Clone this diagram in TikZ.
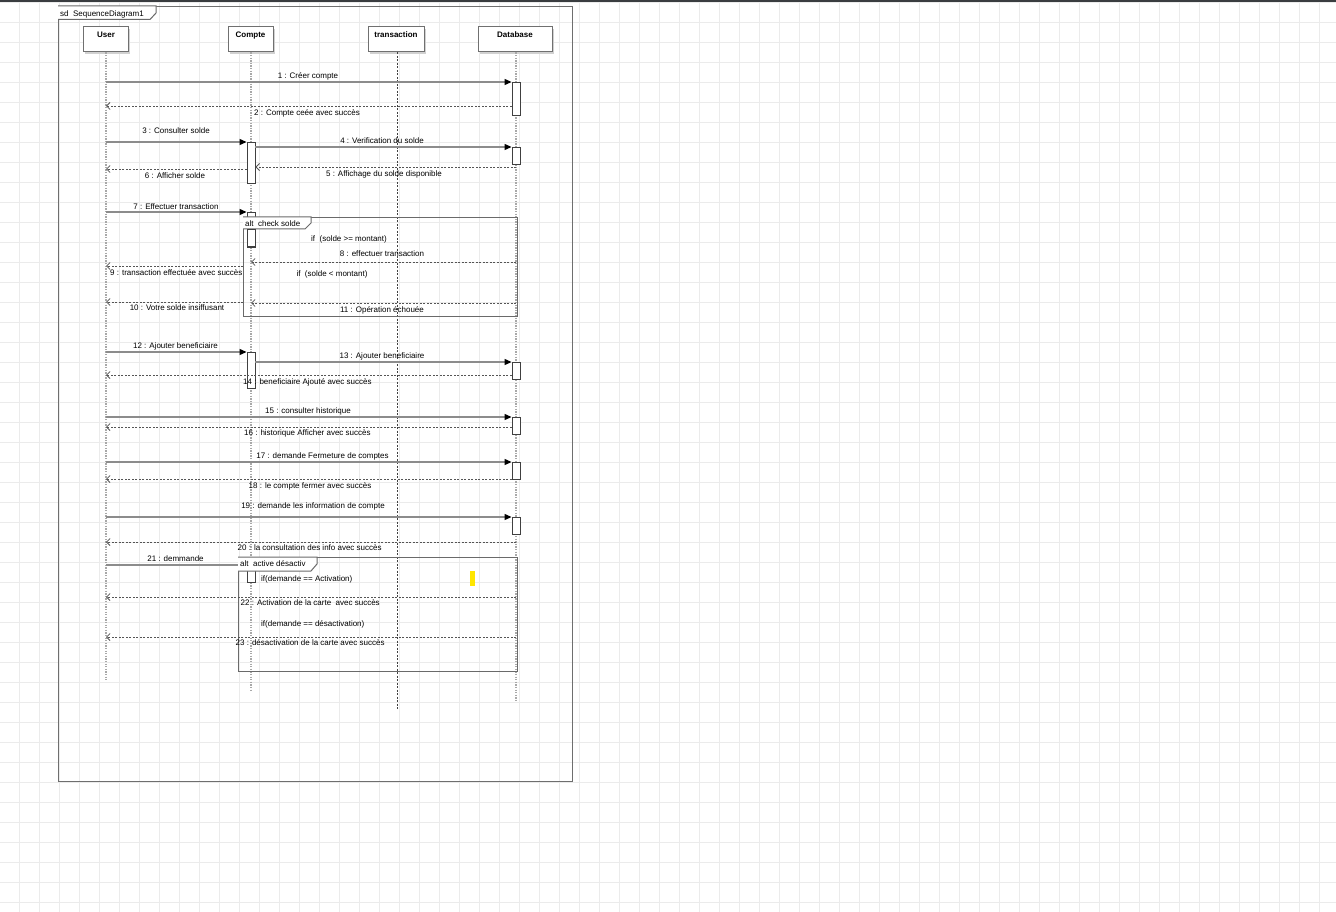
\documentclass[tikz,border=0pt]{standalone}
\usepackage{fontspec}
\setmainfont{Liberation Sans}
\usetikzlibrary{arrows.meta,shadows}
\definecolor{gridc}{HTML}{EBEBEB}
\definecolor{topc}{HTML}{3A3D40}
\definecolor{framec}{HTML}{6E6E6E}
\definecolor{headc}{HTML}{707070}
\definecolor{msgc}{HTML}{8C8C8C}
\definecolor{retc}{HTML}{555555}
\definecolor{lifec}{HTML}{A8A8A8}
\definecolor{lifet}{HTML}{404040}
\definecolor{actc}{HTML}{404040}
\definecolor{altc}{HTML}{6A6A6A}
\definecolor{marker}{HTML}{FFE600}
\tikzset{
  lbl/.style={font=\fontsize{8}{9.6}\selectfont, inner sep=0pt, anchor=mid, yshift=-0.8pt},
  lblw/.style={font=\fontsize{8}{9.6}\selectfont, inner sep=0pt, anchor=mid west, yshift=-0.8pt},
  head/.style={draw=headc, line width=1pt, fill=white, inner sep=3.5pt,
    minimum height=25pt, text height=7.5pt, text depth=10.5pt,
    font=\fontsize{8}{9.6}\selectfont\bfseries,
    drop shadow={shadow xshift=1.6pt, shadow yshift=-1.6pt, fill=black!18, opacity=1}},
  life/.style={draw=lifec, line width=1.3pt, dash pattern=on 1.3pt off 1.3pt},
  lifedark/.style={draw=lifet, line width=0.8pt, dash pattern=on 2pt off 1.5pt},
  act/.style={draw=actc, line width=0.9pt, fill=white, minimum width=8pt, inner sep=0pt, anchor=north},
  msg/.style={draw=msgc, line width=1.2pt, -{Triangle[length=7pt,width=6pt,color=black]}},
  ret/.style={draw=retc, line width=0.8pt, dash pattern=on 2pt off 1.5pt, -{Straight Barb[length=3.5pt,width=7pt]}},
  fragbox/.style={draw=altc, line width=1.2pt, anchor=north west, inner sep=0pt},
  tabshape/.style={draw=altc, line width=1pt, fill=white}
}
\begin{document}
\begin{tikzpicture}[x=1pt,y=-1pt]
\useasboundingbox (0,0) rectangle (1336,912);
% background grid
\fill[white] (0,0) rectangle (1336,912);
\foreach \i in {0,...,66} \draw[gridc, line width=1pt] ({19.5+20*\i},0) -- ({19.5+20*\i},912);
\foreach \j in {0,...,45} \draw[gridc, line width=1pt] (0,{2.7+20*\j}) -- (1336,{2.7+20*\j});
\fill[topc] (0,0) rectangle (1336,2.3);

% outer frame
\node[draw=framec, line width=1.3pt, anchor=north west, inner sep=0pt, minimum width=514pt, minimum height=775pt] (sd) at (58,6) {};
\draw[tabshape] (58,6) -- (156,6) -- (156,13) -- (150,19.5) -- (58,19.5);
\node[lblw] (sdl) at (60,13) {sd\ \ SequenceDiagram1};

% heads
\node[head, minimum width=45pt] (u) at (106,39.5) {User};
\node[head, minimum width=45pt] (c) at (250.5,39.5) {Compte};
\node[head, minimum width=56pt] (t) at (396,39.5) {transaction};
\node[head, minimum width=74pt] (d) at (515,39.5) {Database};

% lifelines
\draw[life] (u.south) -- (u.south |- 0,680);
\draw[life] (c.south) ++(0.5,0) -- (251,692);
\draw[lifedark] (t.south) ++(1,0) -- (397,710);
\draw[life] (d.south) ++(1,0) -- (516,702);

% activation bars
\node[act, minimum height=33pt] (a1) at (516,82) {};
\node[act, minimum height=41pt] (a2) at (251,142) {};
\node[act, minimum height=17pt] (a3) at (516,147) {};
\node[act, minimum height=35pt] (a4) at (251,212) {};
\node[act, minimum height=36pt] (a5) at (251,352) {};
\node[act, minimum height=17pt] (a6) at (516,362) {};
\node[act, minimum height=17pt] (a7) at (516,417) {};
\node[act, minimum height=17pt] (a8) at (516,462) {};
\node[act, minimum height=17pt] (a9) at (516,517) {};
\node[act, minimum height=17pt] (a10) at (251,565) {};

% messages
\draw[msg] (u.south |- a1.north) -- (a1.north west);
\draw[ret] (a1.west |- 0,106) -- (u.south |- 0,106);
\draw[msg] (u.south |- a2.north) -- (a2.north west);
\draw[msg] (a2.east |- a3.north) -- (a3.north west);
\draw[ret] (516,167) -- (a2.east |- 0,167);
\draw[ret] (a2.west |- 0,169) -- (u.south |- 0,169);
\draw[msg] (u.south |- a4.north) -- (a4.north west);

% alt check solde
\node[fragbox, minimum width=274pt, minimum height=99pt] (alt1) at (243,217) {};
\draw[ret] (516,262) -- (251,262);
\draw[ret] (alt1.west |- 0,266) -- (u.south |- 0,266);
\draw[ret] (alt1.west |- 0,302) -- (u.south |- 0,302);
\draw[ret] (516,303) -- (251,303);
\draw[tabshape] (243,217) -- (311,217) -- (311,223) -- (305,229) -- (243,229);
\node[lblw] (alt1l) at (245,223) {alt\ \ check solde};
\node[act, minimum height=17pt] (a4b) at (251,229) {};

\draw[msg] (u.south |- a5.north) -- (a5.north west);
\draw[msg] (a5.east |- a6.north) -- (a6.north west);
\draw[ret] (a6.west |- 0,375) -- (u.south |- 0,375);
\draw[msg] (u.south |- a7.north) -- (a7.north west);
\draw[ret] (a7.west |- 0,427) -- (u.south |- 0,427);
\draw[msg] (u.south |- a8.north) -- (a8.north west);
\draw[ret] (a8.west |- 0,479) -- (u.south |- 0,479);
\draw[msg] (u.south |- a9.north) -- (a9.north west);
\draw[ret] (516,542) -- (u.south |- 0,542);
\draw[msg] (u.south |- a10.north) -- (a10.north west);

% alt active desactiv
\node[fragbox, minimum width=279pt, minimum height=114pt] (alt2) at (238,557) {};
\draw[ret] (516,597) -- (u.south |- 0,597);
\draw[ret] (516,637) -- (u.south |- 0,637);
\draw[tabshape] (238,557) -- (317,557) -- (317,564) -- (311,571) -- (238,571);
\node[lblw] (alt2l) at (240,563.5) {alt\ \ active désactiv};
\node[fill=marker, inner sep=0pt, minimum width=5pt, minimum height=15pt, anchor=north west] (mark) at (470,571) {};

% labels
\node[lbl] (l1) at (308,75) {1 : Créer compte};
\node[lblw] (l2) at (254,112) {2 : Compte ceée avec succès};
\node[lbl] (l3) at (176,130) {3 : Consulter solde};
\node[lbl] (l4) at (382,140) {4 : Verification du solde};
\node[lbl] (l5) at (384,173) {5 : Affichage du solde disponible};
\node[lbl] (l6) at (175,175) {6 : Afficher solde};
\node[lbl] (l7) at (176,206) {7 : Effectuer transaction};
\node[lbl] (g1) at (349,238) {if\ \ (solde >= montant)};
\node[lbl] (l8) at (382,253) {8 : effectuer transaction};
\node[lblw] (l9) at (110,272) {9 : transaction effectuée avec succès};
\node[lbl] (g2) at (332,273) {if\ \ (solde < montant)};
\node[lbl] (l10) at (177,307) {10 : Votre solde insiffusant};
\node[lbl] (l11) at (382,309) {11 : Opération échouée};
\node[lbl] (l12) at (175.5,345) {12 : Ajouter beneficiaire};
\node[lbl] (l13) at (382,355) {13 : Ajouter beneficiaire};
\node[lblw] (l14) at (243,381) {14 : beneficiaire Ajouté avec succès};
\node[lbl] (l15) at (308,410) {15 : consulter historique};
\node[lblw] (l16) at (244,432) {16 : historique Afficher avec succès};
\node[lbl] (l17) at (322.5,455.5) {17 : demande Fermeture de comptes};
\node[lblw] (l18) at (248.5,485) {18 : le compte fermer avec succès};
\node[lbl] (l19) at (313,505.5) {19 : demande les information de compte};
\node[lblw] (l20) at (237.5,547) {20 : la consultation des info avec succès};
\node[lbl] (l21) at (175.5,558) {21 : demmande};
\node[lblw] (g3) at (261,578) {if(demande == Activation)};
\node[lblw] (l22) at (240.5,602) {22 : Activation de la carte\ \ avec succès};
\node[lblw] (g4) at (261,623) {if(demande == désactivation)};
\node[lblw] (l23) at (235.5,642.5) {23 : désactivation de la carte avec succès};
\end{tikzpicture}
\end{document}
